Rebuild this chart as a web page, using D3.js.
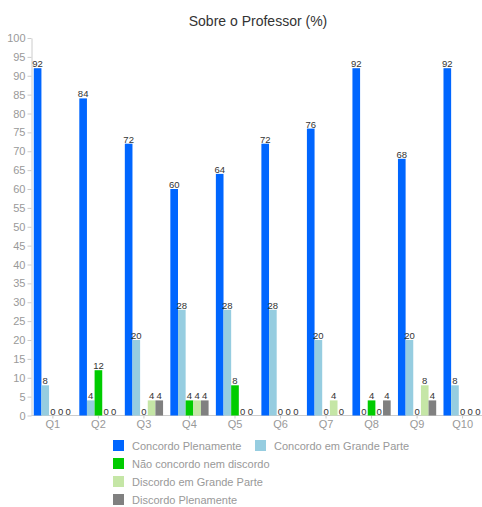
<!DOCTYPE html>
<html>
<head>
<meta charset="utf-8">
<script src="https://cdn.jsdelivr.net/npm/d3@7"></script>
<style>
  body { margin: 0; background: #fff; }
  svg { display: block; font-family: "Liberation Sans", Arial, sans-serif; }
  .axis path, .axis line { stroke: #ccc; }
  .axis text { fill: #999; font-size: 11px; }
</style>
</head>
<body>
<div id="chart"></div>
<script>
// questions on the x axis
var questions = ["Q1", "Q2", "Q3", "Q4", "Q5", "Q6", "Q7", "Q8", "Q9", "Q10"];
var seriesNames = ["Concordo Plenamente", "Concordo em Grande Parte", "Não concordo nem discordo",
                   "Discordo em Grande Parte", "Discordo Plenamente"];
var seriesColors = ["#0066ff", "#96cde0", "#00cc00", "#c5e6a6", "#808080"];
// percentages per series, one value per question
var concordoPlenamente   = [92, 84, 72, 60, 64, 72, 76, 92, 68, 92];
var concordoGrandeParte  = [8, 4, 20, 28, 28, 28, 20, 0, 20, 8];
var naoConcordo          = [0, 12, 0, 4, 8, 0, 0, 4, 0, 0];
var discordoGrandeParte  = [0, 0, 4, 4, 0, 0, 4, 0, 8, 0];
var discordoPlenamente   = [0, 0, 4, 4, 0, 0, 0, 4, 4, 0];
var yTicks = d3.range(0, 101, 5);

var series = [concordoPlenamente, concordoGrandeParte, naoConcordo, discordoGrandeParte, discordoPlenamente];
var data = questions.map(function (q, i) {
    return { q: q, values: series.map(function (s, k) { return { k: k, v: s[i] }; }) };
});

var width = 482, height = 507;
var svg = d3.select("#chart").append("svg")
    .attr("width", width)
    .attr("height", height);

var x0 = d3.scaleBand().domain(questions).range([31.5, 484]).paddingInner(0.16).paddingOuter(0.05);
var x1 = d3.scaleBand().domain(d3.range(5)).range([0, x0.bandwidth()]);
var y = d3.scaleLinear().domain([0, 100]).range([415.5, 38]);

svg.append("text")
    .attr("x", 258)
    .attr("y", 26)
    .attr("text-anchor", "middle")
    .style("font-size", "14px")
    .style("fill", "#333")
    .text("Sobre o Professor (%)");

svg.append("g")
    .attr("class", "y axis")
    .attr("transform", "translate(31.5,0)")
    .call(d3.axisLeft(y).tickValues(yTicks).tickSize(4).tickSizeOuter(0).tickPadding(2));

svg.append("g")
    .attr("class", "x axis")
    .attr("transform", "translate(0,415.5)")
    .call(d3.axisBottom(x0).tickSize(3).tickSizeOuter(0).tickPadding(2))
    .select(".domain").attr("d", "M31.5,0H482");

var group = svg.selectAll("g.group")
    .data(data)
    .enter().append("g")
    .attr("class", "group")
    .attr("transform", function (d) { return "translate(" + x0(d.q) + ",0)"; });

group.selectAll("rect")
    .data(function (d) { return d.values; })
    .enter().append("rect")
    .attr("x", function (d) { return x1(d.k); })
    .attr("y", function (d) { return y(d.v); })
    .attr("width", x1.bandwidth())
    .attr("height", function (d) { return y(0) - y(d.v); })
    .attr("fill", function (d) { return seriesColors[d.k]; });

group.selectAll("text.value")
    .data(function (d) { return d.values; })
    .enter().append("text")
    .attr("class", "value")
    .attr("x", function (d) { return x1(d.k) + x1.bandwidth() / 2; })
    .attr("y", function (d) { return y(d.v) - 1; })
    .attr("text-anchor", "middle")
    .style("font-size", "9.5px")
    .style("fill", "#333")
    .text(function (d) { return d.v; });

// legend: first row holds two items, then one per row
var legendPos = [[113, 440], [255, 440], [113, 458], [113, 476], [113, 494]];
var legend = svg.selectAll("g.legend")
    .data(seriesNames)
    .enter().append("g")
    .attr("class", "legend")
    .attr("transform", function (d, i) { return "translate(" + legendPos[i][0] + "," + legendPos[i][1] + ")"; });
legend.append("rect")
    .attr("width", 11)
    .attr("height", 11)
    .attr("fill", function (d, i) { return seriesColors[i]; });
legend.append("text")
    .attr("x", 19)
    .attr("y", 9.5)
    .style("font-size", "11px")
    .style("fill", "#999")
    .text(function (d) { return d; });
</script>
</body>
</html>
